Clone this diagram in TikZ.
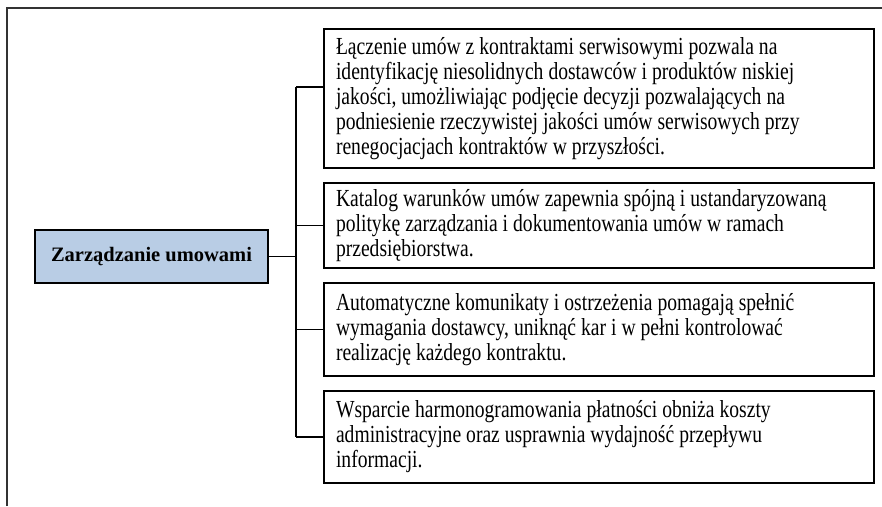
\documentclass[tikz,border=0pt]{standalone}
\usepackage{fontspec}
\setmainfont{Liberation Serif}
\newfontfamily\narrowserif{Liberation Serif}[FakeStretch=0.8]
\newcommand\tightspaces{\spaceskip=5pt plus 1pt minus 1pt\relax}
\definecolor{rootfill}{HTML}{B9CDE5}
\definecolor{framegray}{HTML}{333333}
\begin{document}
\begin{tikzpicture}[x=1pt,y=-1pt,
  infobox/.style={draw=black, line width=1.8pt, rectangle, anchor=north west,
    outer sep=0pt, inner xsep=12pt, inner ysep=0pt, text width=526pt, align=left,
    font=\narrowserif\fontsize{24.5}{25}\selectfont,
    execute at begin node=\tightspaces},
  rootbox/.style={draw=black, line width=1.8pt, fill=rootfill, rectangle, outer sep=0pt,
    minimum width=233pt, minimum height=53pt, font=\fontsize{20.5}{24}\selectfont\bfseries},
  link/.style={draw=black, line width=1.5pt}]
\useasboundingbox (0,0) rectangle (882,506);
% partial outer frame
\draw[framegray, line width=2pt] (7,506) -- (7,8) -- (882,8);
% root
\node[rootbox] (root) at (151.5,256.5) {Zarządzanie umowami};
% boxes
\node[infobox, minimum height=139pt] (b1) at (324,29) {Łączenie umów z kontraktami serwisowymi pozwala na\\identyfikację niesolidnych dostawców i produktów niskiej\\jakości, umożliwiając podjęcie decyzji pozwalających na\\podniesienie rzeczywistej jakości umów serwisowych przy\\renegocjacjach kontraktów w przyszłości.};
\node[infobox, minimum height=85pt] (b2) at (324,183) {Katalog warunków umów zapewnia spójną i ustandaryzowaną\\politykę zarządzania i dokumentowania umów w ramach\\przedsiębiorstwa.};
\node[infobox, minimum height=93pt] (b3) at (324,283) {Automatyczne komunikaty i ostrzeżenia pomagają spełnić\\wymagania dostawcy, uniknąć kar i w pełni kontrolować\\realizację każdego kontraktu.};
\node[infobox, minimum height=92pt] (b4) at (324,391) {Wsparcie harmonogramowania płatności obniża koszty\\administracyjne oraz usprawnia wydajność przepływu\\informacji.};
% connectors
\coordinate (j1) at (296,87);
\coordinate (j4) at (b4.west -| j1);
\draw[link] (j1) -- (j1 -| b1.west);
\draw[link] (b2.west) -- (b2.west -| j1);
\draw[link] (b3.west) -- (b3.west -| j1);
\draw[link] (b4.west) -- (j4);
\draw[link] (j1) -- (j4);
\draw[link] (root.east) -- (root.east -| j1);
\end{tikzpicture}
\end{document}
